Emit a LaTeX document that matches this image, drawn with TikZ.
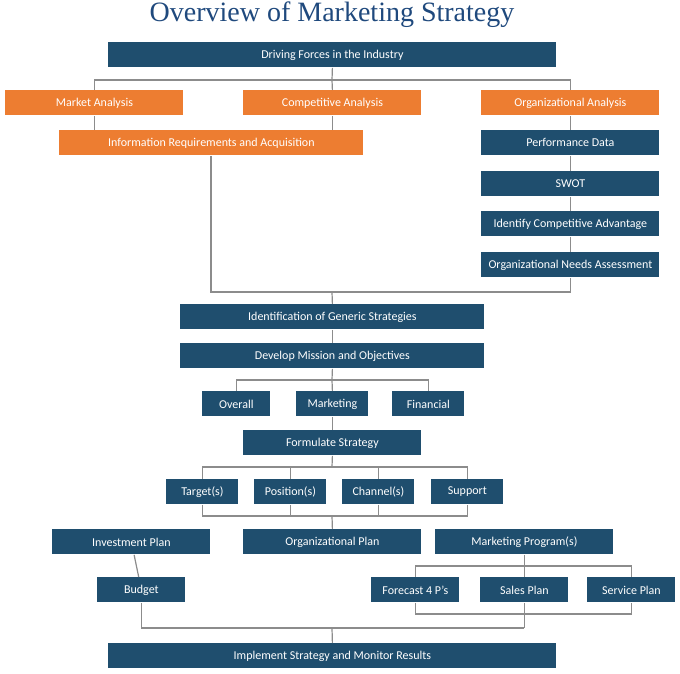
\documentclass[tikz,border=0pt]{standalone}
\usepackage{fontspec}
\setmainfont{Carlito}
\newfontfamily\titlefont{Liberation Serif}
\definecolor{boxblue}{RGB}{31,78,110}
\definecolor{boxorange}{RGB}{237,125,49}
\definecolor{titleblue}{RGB}{31,73,125}
\definecolor{linegray}{RGB}{140,140,140}
\tikzset{
  box/.style={draw=none, fill=boxblue, text=white, font=\fontsize{6}{7}\selectfont, anchor=north west, inner sep=0pt, align=center},
  obox/.style={box, fill=boxorange},
  link/.style={draw=linegray, line width=0.6pt}
}
% box at pixel coordinates: #1 name, #2 style, #3 x0, #4 y0, #5 x1, #6 y1, #7 text
\newcommand{\mkbox}[7]{\node[#2, minimum width={(#5-#3)*0.5pt}, minimum height={(#6-#4)*0.5pt}] (#1) at (#3,#4) {#7};}
\begin{document}
\begin{tikzpicture}[x=0.5pt,y=-0.5pt]
\useasboundingbox (0,0) rectangle (680,674);
\node[text=titleblue, font=\titlefont\fontsize{14}{16}\selectfont] (title) at (332,15) {Overview of Marketing Strategy};

\mkbox{drive}{box}{108}{42}{556}{67}{Driving Forces in the Industry}
\mkbox{market}{obox}{5}{90}{183}{115}{Market Analysis}
\mkbox{compet}{obox}{243}{90}{421}{115}{Competitive Analysis}
\mkbox{organ}{obox}{481}{90}{659}{115}{Organizational Analysis}
\mkbox{info}{obox}{59}{130}{363}{155}{Information Requirements and Acquisition}
\mkbox{perf}{box}{481}{130}{659}{155}{Performance Data}
\mkbox{swot}{box}{481}{171}{659}{196}{SWOT}
\mkbox{advant}{box}{481}{211}{659}{236}{Identify Competitive Advantage}
\mkbox{needs}{box}{481}{252}{659}{277}{Organizational Needs Assessment}
\mkbox{generic}{box}{180}{304}{484}{329}{Identification of Generic Strategies}
\mkbox{mission}{box}{180}{343}{484}{368}{Develop Mission and Objectives}
\mkbox{overall}{box}{202}{391}{270}{416}{Overall}
\mkbox{mktg}{box}{296}{391}{368}{416}{Marketing}
\mkbox{finance}{box}{392}{391}{464}{416}{Financial}
\mkbox{formul}{box}{243}{430}{421}{455}{Formulate Strategy}
\mkbox{target}{box}{166}{479}{238}{504}{Target(s)}
\mkbox{position}{box}{254}{479}{326}{504}{Position(s)}
\mkbox{channel}{box}{342}{479}{414}{504}{Channel(s)}
\mkbox{support}{box}{431}{479}{503}{504}{Support}
\mkbox{invest}{box}{52}{529}{210}{554}{Investment Plan}
\mkbox{orgplan}{box}{243}{529}{421}{554}{Organizational Plan}
\mkbox{program}{box}{435}{529}{613}{554}{Marketing Program(s)}
\mkbox{budget}{box}{97}{577}{185}{602}{Budget}
\mkbox{forecast}{box}{371}{577}{459}{602}{Forecast 4 P’s}
\mkbox{sales}{box}{480}{577}{568}{602}{Sales Plan}
\mkbox{service}{box}{587}{577}{675}{602}{Service Plan}
\mkbox{implem}{box}{108}{643}{556}{668}{Implement Strategy and Monitor Results}

% helper points
\coordinate (j1) at (332,80);
\coordinate (j2) at (332,292);
\coordinate (j3) at (332,380);
\coordinate (j4) at (332,467);
\coordinate (j5) at (332,516);
\coordinate (j6) at (524,566);
\coordinate (j7) at (524,614);
\coordinate (j8) at (332,628);

\begin{scope}[on background layer/.style={}]
\draw[link] (drive.south) -- (j1);
\draw[link] (j1) -| (market.north);
\draw[link] (j1) -| (organ.north);
\draw[link] (j1) -- (compet.north);
\draw[link] (market.south) -- (market.south |- info.north);
\draw[link] (compet.south) -- (compet.south |- info.north);
\draw[link] (organ) -- (perf) -- (swot) -- (advant) -- (needs);
\draw[link] (info.south -| 211,0) |- (j2) -| (needs.south);
\draw[link] (j2) -- (generic.north);
\draw[link] (generic) -- (mission);
\draw[link] (mission.south) -- (j3);
\draw[link] (j3) -| (overall.north);
\draw[link] (j3) -| (finance.north);
\draw[link] (j3) -- (mktg.north);
\draw[link] (mktg) -- (formul);
\draw[link] (formul.south) -- (j4);
\draw[link] (j4) -| (target.north);
\draw[link] (j4) -| (support.north);
\draw[link] (j4 -| position.north) -- (position.north);
\draw[link] (j4 -| channel.north) -- (channel.north);
\draw[link] (target.south) |- (j5) -| (support.south);
\draw[link] (position.south) -- (position.south |- j5);
\draw[link] (channel.south) -- (channel.south |- j5);
\draw[link] (j5) -- (orgplan.north);
\draw[link] (invest) -- (budget);
\draw[link] (program.south -| sales.north) -- (sales.north);
\draw[link] (j6) -| (forecast.north);
\draw[link] (j6) -| (service.north);
\draw[link] (forecast.south) |- (j7) -| (service.south);
\draw[link] (sales.south) -- (sales.south |- j8);
\draw[link] (budget.south) |- (sales.south |- j8);
\draw[link] (j8) -- (implem.north);
\end{scope}
\end{tikzpicture}
\end{document}
